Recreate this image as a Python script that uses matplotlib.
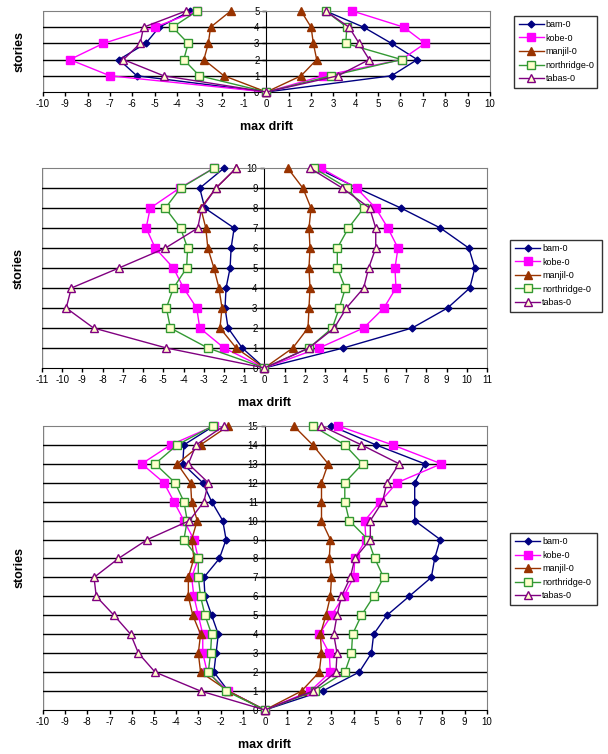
import matplotlib
matplotlib.use("Agg")
import matplotlib.pyplot as plt
import numpy as np

plt.rcParams['font.family'] = ['Liberation Sans', 'DejaVu Sans']
plt.rcParams['axes.unicode_minus'] = False

names = ["bam-0", "kobe-0", "manjil-0", "northridge-0", "tabas-0"]

# panel 1: 5 stories, values for stories 1..5 (left branch negative, right positive)
p1_left = {
    "bam-0":        [-5.8, -6.6, -5.4, -4.8, -3.4],
    "kobe-0":       [-7.0, -8.8, -7.3, -5.0, -3.1],
    "manjil-0":     [-1.9, -2.8, -2.6, -2.5, -1.6],
    "northridge-0": [-3.0, -3.7, -3.5, -4.2, -3.1],
    "tabas-0":      [-4.6, -6.4, -5.65, -5.5, -3.6],
}
p1_right = {
    "bam-0":        [5.6, 6.75, 5.6, 4.35, 2.65],
    "kobe-0":       [2.55, 6.05, 7.1, 6.15, 3.85],
    "manjil-0":     [1.55, 2.25, 2.1, 2.0, 1.55],
    "northridge-0": [2.9, 6.05, 3.55, 3.6, 2.65],
    "tabas-0":      [3.2, 4.6, 4.15, 3.7, 2.65],
}

# panel 2: 10 stories
p2_left = {
    "bam-0":        [-1.1, -1.8, -1.95, -1.9, -1.7, -1.65, -1.5, -2.95, -3.2, -2.0],
    "kobe-0":       [-2.0, -3.2, -3.35, -4.0, -4.5, -5.4, -5.85, -5.65, -4.2, -2.5],
    "manjil-0":     [-1.4, -2.2, -2.1, -2.25, -2.5, -2.8, -2.9, -3.15, -2.4, -1.4],
    "northridge-0": [-2.8, -4.65, -4.85, -4.5, -3.85, -3.8, -4.15, -4.9, -4.15, -2.5],
    "tabas-0":      [-4.85, -8.45, -9.8, -9.55, -7.2, -4.9, -3.3, -3.1, -2.4, -1.4],
}
p2_right = {
    "bam-0":        [3.9, 7.3, 9.05, 10.15, 10.4, 10.1, 8.7, 6.75, 4.6, 2.6],
    "kobe-0":       [2.7, 4.9, 5.9, 6.5, 6.45, 6.6, 6.1, 5.5, 4.55, 2.8],
    "manjil-0":     [1.4, 2.15, 2.2, 2.25, 2.2, 2.25, 2.2, 2.3, 1.9, 1.15],
    "northridge-0": [2.2, 3.35, 3.7, 4.0, 3.6, 3.6, 4.15, 4.9, 4.1, 2.45],
    "tabas-0":      [2.2, 3.45, 4.05, 4.9, 5.15, 5.5, 5.5, 5.2, 3.85, 2.25],
}

# panel 3: 15 stories
p3_left = {
    "bam-0":        [-1.65, -2.3, -2.2, -2.1, -2.4, -2.7, -2.75, -2.05, -1.75, -1.9,
                     -2.4, -2.8, -3.7, -3.65, -2.3],
    "kobe-0":       [-1.65, -2.6, -2.8, -2.8, -3.0, -3.2, -3.3, -3.0, -3.2, -3.65,
                     -4.1, -4.55, -5.55, -4.25, -2.3],
    "manjil-0":     [-1.65, -2.9, -3.0, -2.9, -3.25, -3.45, -3.45, -3.2, -3.3, -3.05,
                     -3.3, -3.35, -3.95, -2.9, -1.65],
    "northridge-0": [-1.75, -2.55, -2.45, -2.4, -2.7, -2.9, -3.0, -3.0, -3.65, -3.5,
                     -3.65, -4.05, -4.95, -3.95, -2.35],
    "tabas-0":      [-2.9, -4.95, -5.7, -6.05, -6.8, -7.6, -7.7, -6.6, -5.3, -3.4,
                     -2.75, -2.55, -3.45, -3.1, -1.85],
}
p3_right = {
    "bam-0":        [2.6, 4.25, 4.8, 4.9, 5.5, 6.5, 7.5, 7.65, 7.9, 6.75,
                     6.75, 6.75, 7.2, 5.0, 3.0],
    "kobe-0":       [2.05, 2.95, 2.9, 2.45, 3.0, 3.55, 4.0, 4.05, 4.55, 4.5,
                     5.2, 5.95, 7.95, 5.75, 3.3],
    "manjil-0":     [1.65, 2.45, 2.55, 2.5, 2.75, 2.95, 3.0, 2.9, 2.95, 2.55,
                     2.55, 2.55, 2.85, 2.15, 1.3],
    "northridge-0": [2.25, 3.6, 3.9, 3.95, 4.35, 4.9, 5.35, 4.95, 4.65, 3.8,
                     3.6, 3.6, 4.4, 3.6, 2.15],
    "tabas-0":      [2.15, 3.2, 3.25, 3.1, 3.25, 3.45, 3.85, 4.05, 4.75, 4.75,
                     5.3, 5.5, 6.05, 4.35, 2.55],
}

styles = {
    "bam-0":        dict(color="#000080", marker="D", ms=3.5, mfc="#000080", mec="#000080"),
    "kobe-0":       dict(color="#FF00FF", marker="s", ms=6, mfc="#FF00FF", mec="#FF00FF"),
    "manjil-0":     dict(color="#993300", marker="^", ms=5.5, mfc="#993300", mec="#993300"),
    "northridge-0": dict(color="#339933", marker="s", ms=5.5, mfc="#FFFFCC", mec="#339933"),
    "tabas-0":      dict(color="#800080", marker="^", ms=5.5, mfc="#FFFFCC", mec="#800080"),
}

panels = [
    (p1_left, p1_right, 5, 10, [0.0707, 0.878, 0.735, 0.1074], [0.838, 0.876, 0.152, 0.111]),
    (p2_left, p2_right, 10, 11, [0.069, 0.512, 0.732, 0.265], [0.832, 0.587, 0.166, 0.095]),
    (p3_left, p3_right, 15, 10, [0.0707, 0.0584, 0.73, 0.3767], [0.832, 0.19, 0.157, 0.111]),
]

fig = plt.figure(figsize=(6.08, 7.54), dpi=100)

for left, right, n, xr, rect, lrect in panels:
    ax = fig.add_axes(rect)
    stories = np.arange(-n, n + 1)
    y = np.abs(stories)
    for nm in names:
        xs = list(left[nm][::-1]) + [0] + list(right[nm])
        ax.plot(xs, y, lw=1, label=nm, **styles[nm], zorder=3, clip_on=False)
    ax.set_xlim(-xr, xr)
    ax.set_ylim(0, n)
    ax.set_xticks(np.arange(-xr, xr + 1))
    ax.set_yticks(np.arange(0, n + 1))
    for s in range(1, n):
        ax.axhline(s, color="black", lw=1, zorder=1)
    ax.spines['left'].set_position(('data', 0))
    ax.spines['left'].set_color("black")
    ax.spines['bottom'].set_color("black")
    for sp in ('top', 'right'):
        ax.spines[sp].set_color("#808080")
    ax.axvline(-xr, color="#808080", lw=1, zorder=0)
    ax.tick_params(axis='both', labelsize=7, length=3, width=1, pad=2)
    ax.tick_params(axis='y', pad=2)
    ax.set_xlabel("max drift", fontsize=9, fontweight="bold", labelpad=9)
    ax.set_ylabel("stories", fontsize=9, fontweight="bold")
    ax.yaxis.set_label_coords(-0.04, 0.5)

    lax = fig.add_axes(lrect)
    lax.axis("off")
    h, l = ax.get_legend_handles_labels()
    lax.legend(h, l, loc="center", fontsize=6.5, frameon=True, fancybox=False,
               edgecolor="black", handlelength=2.8, borderpad=0.5, labelspacing=0.5,
               handletextpad=0.2, mode="expand", bbox_to_anchor=(0, 0, 1, 1))

fig.savefig("out.png", dpi=100)
